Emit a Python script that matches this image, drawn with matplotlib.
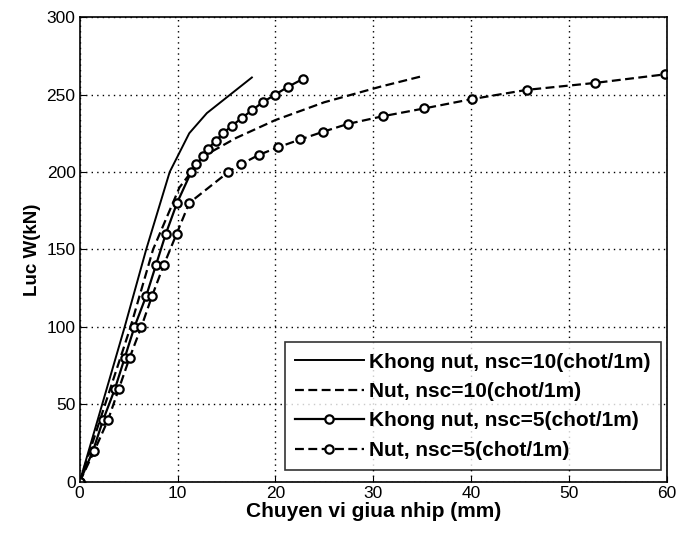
import matplotlib.pyplot as plt

plt.rcParams['font.family'] = ['Liberation Sans', 'DejaVu Sans']

# Khong nut, nsc=10 (solid)
x_kn10 = [0, 4.6, 6.8, 9.2, 11.2, 13.0, 15.0, 17.6]
y_kn10 = [0, 100, 150, 200, 225, 238, 248, 261]

# Nut, nsc=10 (dashed)
x_n10 = [0, 5.2, 7.5, 10.2, 12.6, 16.0, 20.0, 25.0, 30.7, 35.1]
y_n10 = [0, 100, 150, 190, 210, 222, 233.5, 245, 255, 262]

# Khong nut, nsc=5 (solid + circles)
x_kn5 = [0, 1.36, 2.4, 3.6, 4.6, 5.6, 6.8, 7.8, 8.8, 9.95, 11.4, 11.9, 12.6, 13.1,
         13.9, 14.65, 15.6, 16.6, 17.65, 18.7, 20.0, 21.3, 22.8]
y_kn5 = [0, 20, 40, 60, 80, 100, 120, 140, 160, 180, 200, 205, 210, 215,
         220, 225, 230, 235, 240, 245, 250, 255, 260]

# Nut, nsc=5 (dashed + circles)
x_n5 = [0, 1.5, 2.9, 4.0, 5.1, 6.3, 7.4, 8.6, 9.9, 11.2, 15.2, 16.5, 18.3, 20.3,
        22.55, 24.9, 27.4, 31.0, 35.2, 40.05, 45.7, 52.7, 59.8]
y_n5 = [0, 20, 40, 60, 80, 100, 120, 140, 160, 180, 200, 205, 211, 216,
        221, 226, 231, 236, 241, 247, 253, 257.5, 263]

labels = ['Khong nut, nsc=10(chot/1m)', 'Nut, nsc=10(chot/1m)',
          'Khong nut, nsc=5(chot/1m)', 'Nut, nsc=5(chot/1m)']

fig = plt.figure(figsize=(6.81, 5.33), dpi=100)
ax = fig.add_axes([0.117, 0.096, 0.862, 0.872])

ax.plot(x_kn10, y_kn10, color='black', linewidth=1.4, label=labels[0])
ax.plot(x_n10, y_n10, color='black', linewidth=1.6, linestyle=(0, (4, 2)), label=labels[1])
ax.plot(x_kn5, y_kn5, color='black', linewidth=1.6, marker='o', markersize=6,
        markerfacecolor='white', markeredgewidth=1.6, label=labels[2])
ax.plot(x_n5, y_n5, color='black', linewidth=1.6, linestyle=(0, (4, 2)), marker='o',
        markersize=6, markerfacecolor='white', markeredgewidth=1.6, label=labels[3])

ax.set_xlim(0, 60)
ax.set_ylim(0, 300)
ax.set_xticks(range(0, 61, 10))
ax.set_yticks(range(0, 301, 50))
ax.grid(True, color='black', linestyle=(0, (1, 3)), linewidth=1.0)
ax.tick_params(direction='in', labelsize=12.5, length=4, pad=3)
for s in ax.spines.values():
    s.set_linewidth(1.2)

ax.set_xlabel('Chuyen vi giua nhip (mm)', fontsize=15, fontweight='bold', labelpad=1)
ax.set_ylabel('Luc W(kN)', fontsize=13.5, fontweight='bold', labelpad=4)

leg = ax.legend(loc='lower right', bbox_to_anchor=(0.99, 0.025),
                prop={'size': 15, 'weight': 'bold'}, frameon=True, fancybox=False,
                edgecolor='black', borderaxespad=0, borderpad=0.5,
                handlelength=3.3, labelspacing=0.5, handletextpad=0.25)
leg.get_frame().set_linewidth(1.2)

fig.savefig('out.png', dpi=100)
